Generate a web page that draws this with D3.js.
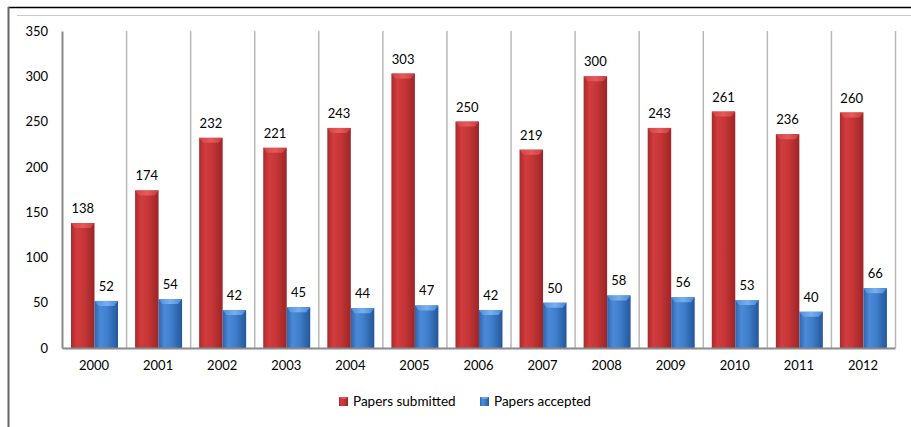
<!DOCTYPE html>
<html>
<head>
<meta charset="utf-8">
<script src="https://cdn.jsdelivr.net/npm/d3@7"></script>
<style>
  body { margin: 0; background: #fff; }
  svg { display: block; font-family: Lato, "Open Sans", sans-serif; }
</style>
</head>
<body>
<div class="chart"></div>
<script>
const years = ['2000', '2001', '2002', '2003', '2004', '2005', '2006', '2007', '2008', '2009', '2010', '2011', '2012'];
const submitted = [138, 174, 232, 221, 243, 303, 250, 219, 300, 243, 261, 236, 260];
const accepted = [52, 54, 42, 45, 44, 47, 42, 50, 58, 56, 53, 40, 66];
const seriesNames = ['Papers submitted', 'Papers accepted'];
const yTicks = [0, 50, 100, 150, 200, 250, 300, 350];

const width = 911, height = 427;
const svg = d3.select('.chart').append('svg').attr('width', width).attr('height', height);

// frame lines
svg.append('line').attr('x1', 8).attr('x2', width).attr('y1', 7.5).attr('y2', 7.5).attr('stroke', '#000').attr('stroke-width', 1.5);
svg.append('line').attr('x1', 8.5).attr('x2', 8.5).attr('y1', 7).attr('y2', height).attr('stroke', '#666').attr('stroke-width', 2);
svg.append('line').attr('x1', 17).attr('x2', width).attr('y1', 15.5).attr('y2', 15.5).attr('stroke', '#c8c8c8');

const pLeft = 62, pRight = 895, pTop = 31, pBottom = 348;
const x = d3.scaleBand().domain(years).range([pLeft, pRight]).padding(0);
const xs = d3.scaleBand().domain(seriesNames).range([9, 56]).padding(0);
const y = d3.scaleLinear().domain([0, 350]).range([pBottom, pTop]);

const defs = svg.append('defs');
const grad = (id, stops) => {
  let g = defs.append('linearGradient').attr('id', id).attr('x1', '0').attr('x2', '1').attr('y1', '0').attr('y2', '0');
  stops.forEach(s => g.append('stop').attr('offset', s[0]).attr('stop-color', s[1]));
};
grad('redBody', [[0, '#a82a2c'], [0.25, '#d23c3e'], [0.55, '#c63637'], [1, '#9c2527']]);
grad('blueBody', [[0, '#2d64ab'], [0.25, '#4a8ad8'], [0.55, '#3f7ecb'], [1, '#24579a']]);
grad('redTop', [[0, '#d04446'], [0.5, '#e65a5c'], [1, '#c83c3e']]);
grad('blueTop', [[0, '#5090dc'], [0.5, '#78b0ee'], [1, '#4888d8']]);

// vertical gridlines
svg.append('g')
  .selectAll('line')
  .data(years)
  .enter()
  .append('line')
  .attr('x1', d => x(d) + x.bandwidth() + 0.5)
  .attr('x2', d => x(d) + x.bandwidth() + 0.5)
  .attr('y1', pTop)
  .attr('y2', pBottom)
  .attr('stroke', '#b8b8b8')
  .attr('stroke-width', 1.5);

// y axis
const yAxis = svg.append('g')
  .attr('transform', `translate(${pLeft},0)`)
  .call(d3.axisLeft(y).tickValues(yTicks).tickSize(0).tickPadding(14));
yAxis.select('.domain').attr('stroke', '#8a8a8a').attr('stroke-width', 2);
yAxis.selectAll('text').attr('font-size', '13px').attr('fill', '#000').attr('font-family', 'Lato, sans-serif');

const bars = [
  { key: seriesNames[0], values: submitted, body: 'url(#redBody)', cap: 'url(#redTop)' },
  { key: seriesNames[1], values: accepted, body: 'url(#blueBody)', cap: 'url(#blueTop)' }
];

bars.forEach(s => {
  let g = svg.append('g');
  let bw = xs.bandwidth();
  let node = g.selectAll('g')
    .data(s.values)
    .enter()
    .append('g')
    .attr('transform', (d, i) => `translate(${x(years[i]) + xs(s.key)},0)`);
  node.append('rect')
    .attr('x', 0)
    .attr('y', d => y(d))
    .attr('width', bw)
    .attr('height', d => pBottom - y(d))
    .attr('fill', s.body);
  node.append('path')
    .attr('d', d => `M0,${y(d)}H${bw}L${bw - 4},${y(d) + 5}H4Z`)
    .attr('fill', s.cap);
  node.append('text')
    .attr('x', bw / 2)
    .attr('y', d => y(d) - 10)
    .attr('text-anchor', 'middle')
    .attr('font-size', '13px')
    .text(d => d);
});

// x axis
const xAxis = svg.append('g')
  .attr('transform', `translate(0,${pBottom})`)
  .call(d3.axisBottom(x).tickSize(0).tickPadding(13));
xAxis.select('.domain').attr('stroke', '#8a8a8a').attr('stroke-width', 2);
xAxis.selectAll('text').attr('font-size', '13px').attr('fill', '#000').attr('font-family', 'Lato, sans-serif');

// legend
const legend = svg.append('g').attr('transform', 'translate(339,396)');
const legendX = [0, 141];
bars.forEach((s, i) => {
  let lg = legend.append('g').attr('transform', `translate(${legendX[i]},0)`);
  lg.append('rect').attr('width', 9).attr('height', 9).attr('y', 1).attr('fill', s.body);
  lg.append('path').attr('d', 'M0,1H9L7,3H2Z').attr('fill', s.cap);
  lg.append('text').attr('x', 14).attr('y', 10).attr('font-size', '13.5px').text(s.key);
});
</script>
</body>
</html>
